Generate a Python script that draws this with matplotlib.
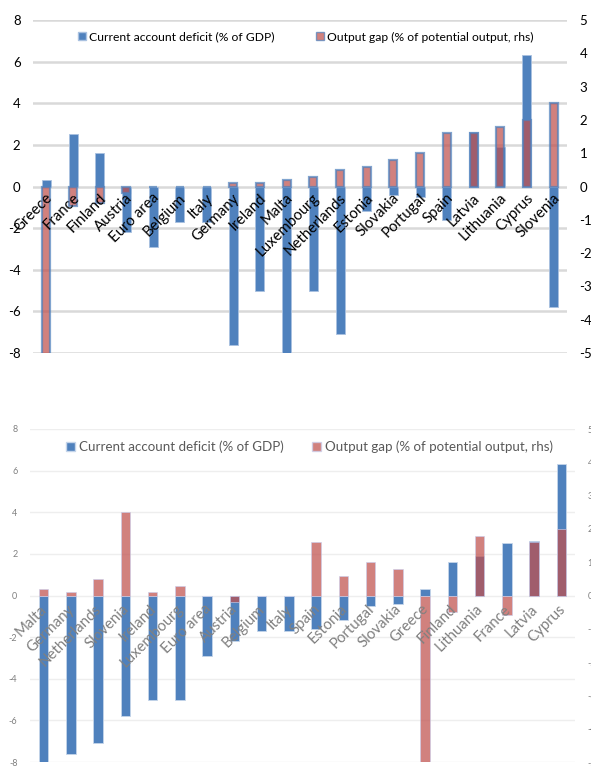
import numpy as np
import matplotlib
matplotlib.use("Agg")
import matplotlib.pyplot as plt
from matplotlib.patches import Patch

plt.rcParams["font.family"] = ["Lato", "DejaVu Sans"]
plt.rcParams["axes.unicode_minus"] = False

# data
countries = ["Greece", "France", "Finland", "Austria", "Euro area", "Belgium", "Italy",
             "Germany", "Ireland", "Malta", "Luxembourg", "Netherlands", "Estonia",
             "Slovakia", "Portugal", "Spain", "Latvia", "Lithuania", "Cyprus", "Slovenia"]
ca_deficit = [0.3, 2.5, 1.6, -2.2, -2.9, -1.7, -1.7,
              -7.6, -5.0, -8.3, -5.0, -7.1, -1.2,
              -0.4, -0.5, -1.6, 2.6, 1.9, 6.3, -5.8]
output_gap = [-5.2, -0.6, -0.5, -0.2, 0.0, 0.0, 0.0,
              0.1, 0.1, 0.2, 0.3, 0.5, 0.6,
              0.8, 1.0, 1.6, 1.6, 1.8, 2.0, 2.5]

top_order = countries  # sorted by output gap
bottom_order = ["Malta", "Germany", "Netherlands", "Slovenia", "Ireland", "Luxembourg",
                "Euro area", "Austria", "Belgium", "Italy", "Spain", "Estonia", "Portugal",
                "Slovakia", "Greece", "Finland", "Lithuania", "France", "Latvia", "Cyprus"]

left_ticks = [-8, -6, -4, -2, 0, 2, 4, 6, 8]
right_ticks = [-5, -4, -3, -2, -1, 0, 1, 2, 3, 4, 5]
legend_labels = ["Current account deficit (% of GDP)",
                 "Output gap (% of potential output, rhs)"]

BLUE = "#4F81BD"
RED = "#C0504D"

ca = dict(zip(countries, ca_deficit))
og = dict(zip(countries, output_gap))

W, H = 591, 767
fig = plt.figure(figsize=(W / 100, H / 100), dpi=100)


def draw(rect, order, style, leg_x, leg_y):
    ax = fig.add_axes(rect)
    ax2 = ax.twinx()
    x = np.arange(len(order))
    w = 0.34
    blue_vals = [ca[c] for c in order]
    red_vals = [og[c] for c in order]
    if style == "top":
        blue_edge, red_edge, red_lw = "#A9C1E0", BLUE, 1.6
        tcol, gcol, glw, tsize, lsize, legsize, legcol = "black", "#D9D9D9", 1.8, 9.5, 10.8, 8.7, "black"
        lab_dx, lab_y = 0.15, -0.45
    else:
        blue_edge, red_edge, red_lw = "#C5D5EA", "#C9CDEB", 0.6
        tcol, gcol, glw, tsize, lsize, legsize, legcol = "#808080", "#EEEEEE", 1.0, 6.5, 10.8, 9.6, "#595959"
        lab_dx, lab_y = 0.05, -0.55

    ax.bar(x, blue_vals, w, color=BLUE, edgecolor=blue_edge, linewidth=0.6, zorder=3)
    ax2.bar(x, red_vals, w - (0.04 if style == "top" else 0), color=RED, alpha=0.72,
            edgecolor=red_edge, linewidth=red_lw, zorder=3)

    ax.set_ylim(-8, 8)
    ax2.set_ylim(-5, 5)
    ax.set_xlim(-0.5, len(order) - 0.5)
    ax.set_yticks(left_ticks)
    ax2.set_yticks(right_ticks)
    ax.set_xticks([])
    for a in (ax, ax2):
        for s in a.spines.values():
            s.set_visible(False)
        a.tick_params(axis="y", length=0, labelsize=tsize, colors=tcol, pad=9)
    ax.yaxis.grid(True, color=gcol, linewidth=glw, zorder=0)
    ax.set_axisbelow(True)

    # category labels sit next to the zero line, above the bars
    for i, name in enumerate(order):
        ax2.text(i + lab_dx, lab_y, name, transform=ax.transData, rotation=45,
                 ha="right", va="center", rotation_mode="anchor", fontsize=lsize,
                 color=tcol, zorder=6)

    handles = [Patch(facecolor=BLUE, edgecolor=blue_edge),
               Patch(facecolor=RED, alpha=0.72, edgecolor=red_edge)]
    for h, lab, lx in zip(handles, legend_labels, leg_x):
        leg = fig.legend([h], [lab], loc="center left",
                         bbox_to_anchor=(lx / W, 1 - leg_y / H), bbox_transform=fig.transFigure,
                         frameon=False, fontsize=legsize, handlelength=0.65, handleheight=0.65,
                         handletextpad=0.3, borderpad=0, borderaxespad=0)
        for t in leg.get_texts():
            t.set_color(legcol)


draw([33 / W, 1 - 353 / H, 534 / W, 333 / H], top_order, "top", (78, 316), 37)
draw([30 / W, 1 - 762 / H, 545 / W, 333 / H], bottom_order, "bottom", (66, 312), 447)

fig.savefig("out.png", dpi=100)
